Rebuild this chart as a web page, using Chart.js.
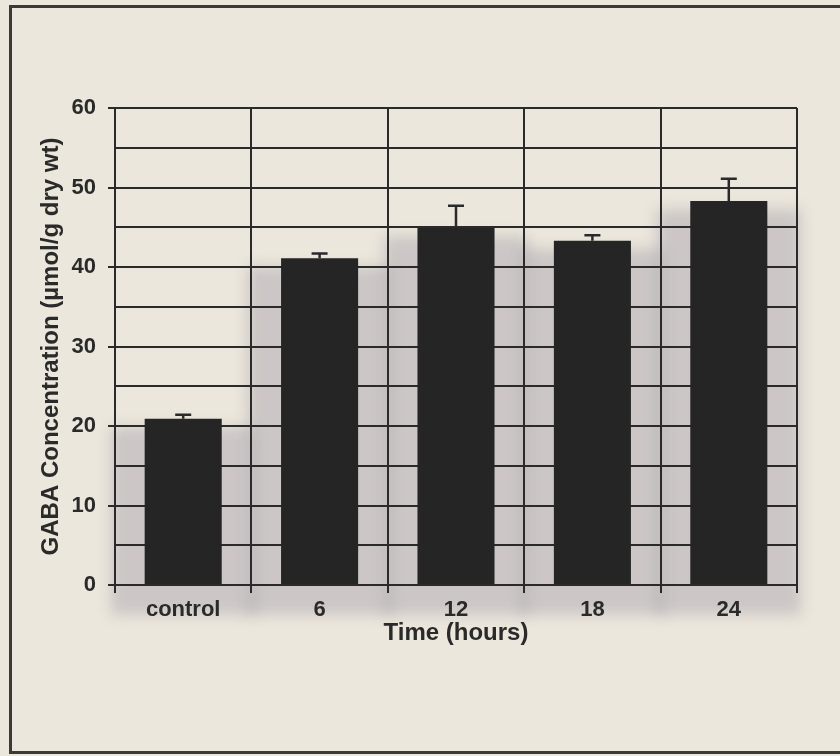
<!DOCTYPE html>
<html>
<head>
<meta charset="utf-8">
<script src="https://cdn.jsdelivr.net/npm/chart.js@4"></script>
<style>
  html, body { margin: 0; padding: 0; background: #ece7dc; overflow: hidden; }
  #wrap { position: relative; width: 840px; height: 756px; }
  #frame { position: absolute; left: 9px; top: 5px; width: 900px; height: 749px;
           border: 3px solid #3a3a3a; box-sizing: border-box; }
  canvas { position: absolute; left: 0; top: 0; }
</style>
</head>
<body>
<div id="wrap">
  <div id="frame"></div>
  <canvas id="c" width="840" height="756"></canvas>
</div>
<script>
// GABA concentration after treatment, mean and upper error (SE)
const categories = ['control', '6', '12', '18', '24'];
const gabaMean = [20.9, 41.1, 44.9, 43.3, 48.3];
const gabaError = [0.5, 0.6, 2.8, 0.7, 2.8];
const yTicks = [0, 10, 20, 30, 40, 50, 60];

const ink = '#2a2a2a';
const tickFont = { family: '"Liberation Sans", Arial, sans-serif', weight: 'bold', size: 22 };
const titleFont = { family: '"Liberation Sans", Arial, sans-serif', weight: 'bold', size: 24 };

// Soft grey toner smear that sits behind each printed bar
const toner = {
  id: 'toner',
  beforeDraw(chart) {
    const ctx = chart.ctx;
    const meta = chart.getDatasetMeta(0);
    const base = chart.scales.y.getPixelForValue(0);
    ctx.save();
    ctx.filter = 'blur(7px)';
    ctx.fillStyle = 'rgba(160,155,168,0.42)';
    meta.data.forEach((bar) => {
      const half = bar.width / 2 + 34;
      ctx.fillRect(bar.x - half, bar.y + 8, half * 2, base - bar.y + 22);
    });
    ctx.restore();
  }
};

// Upward error bars with caps, drawn from the data through the y scale
const errorBars = {
  id: 'errorBars',
  afterDatasetsDraw(chart) {
    const ctx = chart.ctx;
    const meta = chart.getDatasetMeta(0);
    const y = chart.scales.y;
    ctx.save();
    ctx.strokeStyle = ink;
    ctx.lineWidth = 2.5;
    meta.data.forEach((bar, i) => {
      const top = y.getPixelForValue(gabaMean[i] + gabaError[i]);
      const base = y.getPixelForValue(gabaMean[i]);
      ctx.beginPath();
      ctx.moveTo(bar.x, base);
      ctx.lineTo(bar.x, top);
      ctx.moveTo(bar.x - 8, top);
      ctx.lineTo(bar.x + 8, top);
      ctx.stroke();
    });
    ctx.restore();
  }
};

new Chart(document.getElementById('c'), {
  type: 'bar',
  data: {
    labels: categories,
    datasets: [{
      data: gabaMean,
      backgroundColor: '#252525',
      borderWidth: 0,
      barPercentage: 0.565,
      categoryPercentage: 1.0
    }]
  },
  options: {
    responsive: false,
    animation: false,
    layout: { padding: { left: 37, right: 43, top: 108, bottom: 108 } },
    plugins: { legend: { display: false }, tooltip: { enabled: false } },
    scales: {
      x: {
        grid: { color: ink, lineWidth: 2, tickLength: 8, offset: true },
        border: { color: ink, width: 2 },
        ticks: { color: ink, font: tickFont, padding: 4 },
        title: { display: true, text: 'Time (hours)', color: ink, font: titleFont, padding: 0 },
        afterFit(scale) { scale.height = 63; }
      },
      y: {
        min: 0, max: 60,
        afterBuildTicks(scale) {
          // gridlines every 5, labels only on the tens
          const t = [];
          for (let v = 0; v <= 60; v += 5) t.push({ value: v });
          scale.ticks = t;
        },
        grid: {
          color: ink, lineWidth: 2, tickLength: 7,
          tickColor: (c) => (yTicks.includes(c.tick.value) ? ink : 'rgba(0,0,0,0)')
        },
        border: { color: ink, width: 2 },
        ticks: {
          color: ink, font: tickFont, padding: 12,
          callback: (v) => (yTicks.includes(v) ? String(v) : '')
        },
        title: { display: true, text: 'GABA Concentration (µmol/g dry wt)', color: ink, font: titleFont, padding: 0 },
        afterFit(scale) { scale.width = 78; }
      }
    }
  },
  plugins: [toner, errorBars]
});
</script>
</body>
</html>
